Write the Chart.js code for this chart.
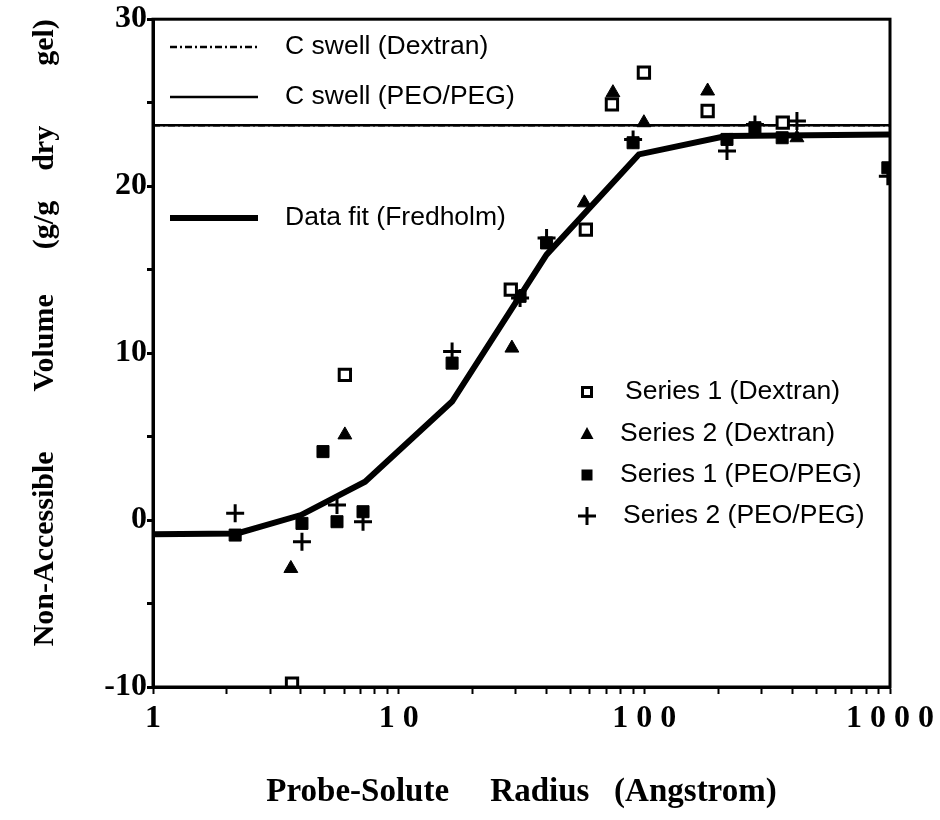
<!DOCTYPE html>
<html>
<head>
<meta charset="utf-8">
<script src="https://cdn.jsdelivr.net/npm/chart.js@4.4.0/dist/chart.umd.min.js"></script>
<style>
  body { margin: 0; background: #fff; }
  #wrap { width: 940px; height: 820px; }
</style>
</head>
<body>
<div id="wrap"><canvas id="naChart" width="940" height="820"></canvas></div>
<script>
// probe radius (Angstrom) and non-accessible volume (g/g dry gel)
const dexS1X = [3.68, 6.04, 28.6, 57.8, 73.8, 99.6, 181, 366];
const dexS1Y = [-9.8, 8.7, 13.8, 17.4, 24.9, 26.8, 24.5, 23.8];

const dexS2X = [3.64, 6.04, 28.9, 57, 74.5, 99.6, 181, 418];
const dexS2Y = [-2.9, 5.1, 10.3, 19.0, 25.6, 23.8, 25.7, 22.9];

const pegS1X = [2.16, 4.04, 4.92, 5.61, 7.16, 16.5, 31.2, 40, 90, 217, 282, 364, 980];
const pegS1Y = [-0.9, -0.2, 4.1, -0.1, 0.5, 9.4, 13.4, 16.6, 22.6, 22.8, 23.5, 22.9, 21.1];

const pegS2X = [2.16, 4.04, 5.61, 7.16, 16.5, 31.2, 40, 90, 217, 282, 418, 980];
const pegS2Y = [0.4, -1.3, 0.9, -0.1, 10.1, 13.3, 16.9, 22.8, 22.1, 23.7, 23.9, 20.6];

const fitX = [1, 2.2, 4, 7.3, 16.5, 40, 95, 215, 1000];
const fitY = [-0.85, -0.8, 0.3, 2.3, 7.1, 15.9, 21.9, 23.0, 23.1];

const swellX = [1, 1000];
const swellDexY = [23.65, 23.65];
const swellPegY = [23.65, 23.65];

const xLabelTicks = [1, 10, 100, 1000];
const yTicks = [-10, -5, 0, 5, 10, 15, 20, 25, 30];

function pts(xs, ys) {
    return xs.map((x, i) => ({ x: x, y: ys[i] }));
}

// minor log ticks 1..9 per decade
const xTicks = [];
for (let d = 1; d < 1000; d *= 10) {
    for (let m = 1; m < 10; m++) xTicks.push(m * d);
}
xTicks.push(1000);

const serifBold = "'Liberation Serif', 'Times New Roman', serif";
const sans = "'Liberation Sans', Arial, sans-serif";

// frame + in-plot legends
const framePlugin = {
    id: 'frame',
    afterDraw(chart) {
        const ctx = chart.ctx;
        const a = chart.chartArea;
        ctx.save();
        ctx.strokeStyle = '#000';
        ctx.lineWidth = 3;
        ctx.strokeRect(a.left, a.top, a.right - a.left, a.bottom - a.top);

        const ds = chart.data.datasets;
        ctx.font = '26.5px ' + sans;
        ctx.fillStyle = '#000';
        ctx.textBaseline = 'middle';

        // line legend, top left
        const lineRows = [[0, 47], [1, 97], [2, 218]];
        lineRows.forEach(([i, y]) => {
            const d = ds[i];
            ctx.beginPath();
            ctx.setLineDash(d.borderDash || []);
            ctx.lineWidth = d.borderWidth;
            ctx.moveTo(170, y);
            ctx.lineTo(258, y);
            ctx.stroke();
            ctx.setLineDash([]);
            ctx.fillText(d.label, 285, y);
        });

        // marker legend, lower right
        const markRows = [[3, 392, 625], [4, 434, 620], [5, 475, 620], [6, 516, 623]];
        markRows.forEach(([i, y, tx]) => {
            const d = ds[i];
            const cx = 587;
            ctx.lineWidth = 3;
            if (d.pointStyle === 'rect') {
                if (d.pointBackgroundColor === '#fff') {
                    ctx.strokeRect(cx - 4.5, y - 4.5, 9, 9);
                } else {
                    ctx.fillRect(cx - 5.5, y - 5.5, 11, 11);
                }
            } else if (d.pointStyle === 'triangle') {
                ctx.beginPath();
                ctx.moveTo(cx, y - 7);
                ctx.lineTo(cx + 6.5, y + 5);
                ctx.lineTo(cx - 6.5, y + 5);
                ctx.closePath();
                ctx.fill();
            } else {
                ctx.beginPath();
                ctx.moveTo(cx - 9, y);
                ctx.lineTo(cx + 9, y);
                ctx.moveTo(cx, y - 9);
                ctx.lineTo(cx, y + 9);
                ctx.stroke();
            }
            ctx.fillText(d.label, tx, y);
        });
        ctx.restore();
    }
};

const ctx = document.getElementById('naChart');
const chart = new Chart(ctx, {
    type: 'scatter',
    data: {
        datasets: [
            {
                label: 'C swell (Dextran)',
                data: pts(swellX, swellDexY),
                showLine: true,
                borderColor: '#000',
                borderWidth: 2.5,
                borderDash: [7, 3, 2, 3],
                pointRadius: 0,
                order: 3
            },
            {
                label: 'C swell (PEO/PEG)',
                data: pts(swellX, swellPegY),
                showLine: true,
                borderColor: '#000',
                borderWidth: 2.5,
                pointRadius: 0,
                order: 2
            },
            {
                label: 'Data fit (Fredholm)',
                data: pts(fitX, fitY),
                showLine: true,
                borderColor: '#000',
                borderWidth: 6,
                tension: 0,
                pointRadius: 0,
                order: 1
            },
            {
                label: 'Series 1 (Dextran)',
                data: pts(dexS1X, dexS1Y),
                pointStyle: 'rect',
                pointRadius: 8,
                pointBackgroundColor: '#fff',
                pointBorderColor: '#000',
                pointBorderWidth: 3,
                order: 0
            },
            {
                label: 'Series 2 (Dextran)',
                data: pts(dexS2X, dexS2Y),
                pointStyle: 'triangle',
                pointRadius: 8,
                pointBackgroundColor: '#000',
                pointBorderColor: '#000',
                pointBorderWidth: 1,
                order: 0
            },
            {
                label: 'Series 1 (PEO/PEG)',
                data: pts(pegS1X, pegS1Y),
                pointStyle: 'rect',
                pointRadius: 8.5,
                pointBackgroundColor: '#000',
                pointBorderColor: '#000',
                pointBorderWidth: 1,
                order: 0
            },
            {
                label: 'Series 2 (PEO/PEG)',
                data: pts(pegS2X, pegS2Y),
                pointStyle: 'cross',
                pointRadius: 9,
                pointBorderColor: '#000',
                pointBorderWidth: 3,
                order: 0
            }
        ]
    },
    options: {
        responsive: false,
        animation: false,
        layout: { padding: { top: 19, right: 50, left: 0, bottom: 0 } },
        plugins: {
            legend: { display: false },
            tooltip: { enabled: false }
        },
        scales: {
            x: {
                type: 'logarithmic',
                min: 1,
                max: 1000,
                afterBuildTicks: (scale) => {
                    scale.ticks = xTicks.map(v => ({ value: v }));
                },
                afterFit: (scale) => { scale.height = 133; },
                border: { display: true, color: '#000', width: 3 },
                grid: {
                    drawOnChartArea: false,
                    drawTicks: true,
                    tickLength: 7,
                    tickWidth: 2,
                    color: '#000'
                },
                ticks: {
                    autoSkip: false,
                    maxRotation: 0,
                    padding: 6,
                    color: '#000',
                    font: { family: serifBold, size: 32, weight: 'bold' },
                    callback: (v) => xLabelTicks.includes(v) ? String(v).split('').join(' ') : ''
                },
                title: {
                    display: true,
                    text: 'Probe-Solute     Radius   (Angstrom)',
                    color: '#000',
                    font: { family: serifBold, size: 33, weight: 'bold' },
                    padding: { top: 0, bottom: 8 }
                }
            },
            y: {
                min: -10,
                max: 30,
                afterBuildTicks: (scale) => {
                    scale.ticks = yTicks.map(v => ({ value: v }));
                },
                afterFit: (scale) => { scale.width = 153; },
                border: { display: true, color: '#000', width: 3 },
                grid: {
                    drawOnChartArea: false,
                    drawTicks: true,
                    tickLength: 6,
                    tickWidth: 3,
                    color: '#000'
                },
                ticks: {
                    autoSkip: false,
                    padding: 0,
                    color: '#000',
                    font: { family: serifBold, size: 32, weight: 'bold' },
                    callback: (v) => (v % 10 === 0 ? String(v) : '')
                },
                title: {
                    display: true,
                    align: 'end',
                    text: 'Non-Accessible        Volume      (g/g    dry        gel)',
                    color: '#000',
                    font: { family: serifBold, size: 30, weight: 'bold' },
                    padding: { top: 27, bottom: 0 }
                }
            }
        }
    },
    plugins: [framePlugin]
});
</script>
</body>
</html>
